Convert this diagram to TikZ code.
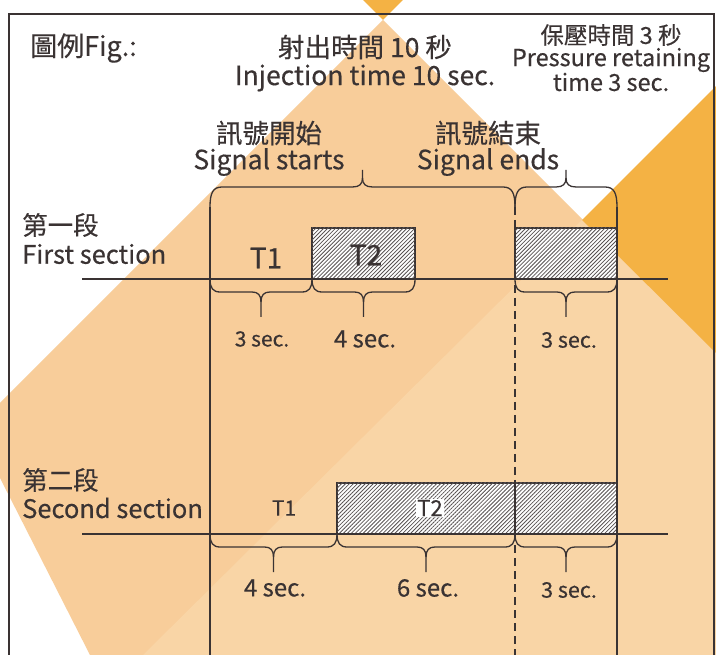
\documentclass[tikz,border=0pt]{standalone}
\usepackage{fontspec}
\setmainfont{Noto Sans CJK TC}[FakeBold=0.35]
\usetikzlibrary{patterns.meta}
\definecolor{ink}{HTML}{3A3333}
\definecolor{peach}{HTML}{F8CD9A}
\definecolor{peachlt}{HTML}{F9D5A6}
\definecolor{amber}{HTML}{F4B244}
\newcommand\fs[1]{\fontsize{#1}{#1}\selectfont}
\newcommand\bracedown[3]{%
  \draw[bracestyle] (#1,#3) .. controls (#1,{#3+9}) and ({#1+3},{#3+13}) .. ({#1+10},{#3+13})
    -- ({(#1+#2)/2-9},{#3+13}) .. controls ({(#1+#2)/2-3},{#3+13}) and ({(#1+#2)/2},{#3+16}) .. ({(#1+#2)/2},{#3+23})
    -- ({(#1+#2)/2},{#3+38});
  \draw[bracestyle] (#2,#3) .. controls (#2,{#3+9}) and ({#2-3},{#3+13}) .. ({#2-10},{#3+13})
    -- ({(#1+#2)/2+9},{#3+13}) .. controls ({(#1+#2)/2+3},{#3+13}) and ({(#1+#2)/2},{#3+16}) .. ({(#1+#2)/2},{#3+23});
}
\newcommand\braceup[3]{%
  \draw[bracestyle] (#1,#3) .. controls (#1,{#3-14}) and ({#1+3},{#3-20}) .. ({#1+12},{#3-20})
    -- ({(#1+#2)/2-10},{#3-20}) .. controls ({(#1+#2)/2-3},{#3-20}) and ({(#1+#2)/2},{#3-23}) .. ({(#1+#2)/2},{#3-29})
    -- ({(#1+#2)/2},{#3-37});
  \draw[bracestyle] (#2,#3) .. controls (#2,{#3-14}) and ({#2-3},{#3-20}) .. ({#2-12},{#3-20})
    -- ({(#1+#2)/2+10},{#3-20}) .. controls ({(#1+#2)/2+3},{#3-20}) and ({(#1+#2)/2},{#3-23}) .. ({(#1+#2)/2},{#3-29});
}
\begin{document}
\begin{tikzpicture}[x=1pt,y=-1pt,
  txt/.style={text=ink, inner sep=0pt, align=center},
  axis/.style={draw=ink, line width=2pt},
  vline/.style={draw=ink, line width=1.8pt},
  dline/.style={draw=ink, line width=1.8pt, dash pattern=on 8pt off 5pt},
  bracestyle/.style={draw=ink, line width=1.3pt, line join=round},
  hatchbox/.style={draw=ink, line width=1.8pt, fill=white,
     postaction={pattern={Lines[angle=45,distance=2.8pt,line width=0.8pt]}, pattern color=ink!85}},
]
\useasboundingbox (0,0) rectangle (716,655);
\fill[white] (0,0) rectangle (716,655);
% background shapes
\fill[peach] (383,20) -- (716,353) -- (716,655) -- (90,655) -- (0,478) -- (0,403) -- cycle;
\fill[peachlt] (143,655) -- (582,220) -- (716,353) -- (716,655) -- cycle;
\fill[amber] (582,220) -- (716,86) -- (716,353) -- cycle;
\fill[amber] (363,0) -- (403,0) -- (383,20) -- cycle;
% frame
\draw[ink, line width=2pt] (9,665) -- (9,14) -- (714,14) -- (714,665);
% coordinates
\coordinate (L) at (210,207);
\coordinate (D) at (515,207);
\coordinate (R) at (617,207);
\coordinate (Lb) at (210,660);
\coordinate (Db) at (515,660);
\coordinate (Rb) at (617,660);
\coordinate (a1) at (82,279);
\coordinate (a2) at (668,279);
\coordinate (b1) at (82,534);
\coordinate (b2) at (668,534);
% hatched boxes
\draw[hatchbox] (312,228) rectangle (415,279);
\draw[hatchbox] (515,228) rectangle (617,279);
\draw[hatchbox] (337,483) rectangle (617,534);
% vertical lines
\draw[vline] (L) -- (Lb);
\draw[vline] (R) -- (Rb);
\draw[dline] (D) -- (Db);
\draw[vline] (515,483) -- (515,534);
% axes
\draw[axis] (a1) -- (a2);
\draw[axis] (b1) -- (b2);
% braces
\braceup{210}{515}{207}
\braceup{515}{617}{207}
\bracedown{210}{312}{279}
\bracedown{312}{415}{279}
\bracedown{515}{617}{279}
\bracedown{210}{337}{534}
\bracedown{337}{515}{534}
\bracedown{515}{617}{534}
% texts
\node[txt, anchor=west, font=\fs{27}] (fig) at (30,48) {圖例Fig.:};
\node[txt, font=\fs{26.5}] (inj) at (365,47) {射出時間 10 秒};
\node[txt, font=\fs{26.5}] (inj2) at (365,78) {Injection time 10 sec.};
\node[txt, font=\fs{23.5}] (pr1) at (611,35) {保壓時間 3 秒};
\node[txt, font=\fs{23.5}] (pr2) at (611,60) {Pressure retaining};
\node[txt, font=\fs{23.5}] (pr3) at (611,82) {time 3 sec.};
\node[txt, font=\fs{26.5}] (ss1) at (269,133) {訊號開始};
\node[txt, font=\fs{26.5}] (ss2) at (269,162) {Signal starts};
\node[txt, font=\fs{26.5}] (se1) at (488,133) {訊號結束};
\node[txt, font=\fs{26.5}] (se2) at (488,162) {Signal ends};
\node[txt, anchor=west, font=\fs{25.5}] (f1) at (22,225) {第一段};
\node[txt, anchor=west, font=\fs{25.5}] (f2) at (22,254) {First section};
\node[txt, anchor=west, font=\fs{25.5}] (s1) at (22,480) {第二段};
\node[txt, anchor=west, font=\fs{25.5}] (s2) at (22,508) {Second section};
\node[txt, font=\fs{28}] (t1a) at (266,258) {T1};
\node[txt, font=\fs{28}] (t2a) at (366,255) {T2};
\node[txt, font=\fs{21}] (t1b) at (284,508) {T1};
\node[txt, font=\fs{22}, fill=white, inner sep=1pt] (t2b) at (430,508) {T2};
\node[txt, font=\fs{21}] (d1) at (262,339) {3 sec.};
\node[txt, font=\fs{24}] (d2) at (365,339) {4 sec.};
\node[txt, font=\fs{21.5}] (d3) at (569,340) {3 sec.};
\node[txt, font=\fs{24}] (d4) at (275,588) {4 sec.};
\node[txt, font=\fs{24}] (d5) at (428,588) {6 sec.};
\node[txt, font=\fs{21.5}] (d6) at (569,590) {3 sec.};
\end{tikzpicture}
\end{document}
